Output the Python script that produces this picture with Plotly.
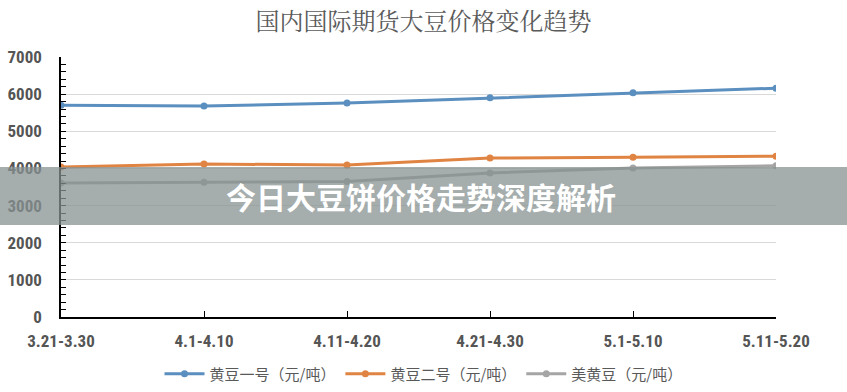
import plotly.graph_objects as go

categories = ["3.21-3.30", "4.1-4.10", "4.11-4.20", "4.21-4.30", "5.1-5.10", "5.11-5.20"]
soy1 = [5700, 5680, 5760, 5900, 6040, 6160]
soy2 = [4040, 4120, 4090, 4280, 4300, 4330]
us_soy = [3610, 3630, 3650, 3880, 4010, 4070]
series_names = ["黄豆一号（元/吨）", "黄豆二号（元/吨）", "美黄豆（元/吨）"]
colors = ["#5b8fbf", "#e08443", "#a5a5a5"]
title_text = "国内国际期货大豆价格变化趋势"
banner_text = "今日大豆饼价格走势深度解析"

fig = go.Figure()
for name, vals, c in zip(series_names, [soy1, soy2, us_soy], colors):
    fig.add_trace(go.Scatter(
        x=categories, y=vals, name=name, mode="lines+markers",
        line=dict(color=c, width=3), marker=dict(color=c, size=7),
    ))

tick_font = dict(family="Roboto Condensed, Liberation Sans Narrow, Roboto", size=17,
                 color="#555555", weight="bold")

L, R, T, B = 61, 71, 57, 75
W, H = 847, 392
pw, ph = W - L - R, H - T - B

fig.update_layout(
    width=W, height=H,
    margin=dict(l=L, r=R, t=T, b=B, autoexpand=False),
    paper_bgcolor="white", plot_bgcolor="white",
    title=dict(text=title_text, x=0.5, xanchor="center", xref="container",
               y=1 - 22 / H, yanchor="middle", yref="container",
               font=dict(family="Noto Serif CJK SC, Noto Sans CJK SC", size=24, color="#5a5a5a")),
    showlegend=True,
    legend=dict(orientation="h", x=0.5, xanchor="center", xref="container",
                y=1 - 374 / H, yanchor="middle", yref="container",
                font=dict(family="Noto Sans CJK SC", size=15, color="#595959"),
                itemwidth=40, tracegroupgap=0),
    xaxis=dict(
        type="category", range=[0, len(categories) - 1], automargin=False,
        showline=True, linecolor="black", linewidth=1.5,
        ticks="inside", ticklen=6, tickcolor="black", tickwidth=1,
        showgrid=False, tickfont=tick_font, ticklabelstandoff=8,
    ),
    yaxis=dict(
        range=[0, 7000], dtick=1000, automargin=False,
        showline=True, linecolor="black", linewidth=1.5,
        ticks="inside", ticklen=5, tickcolor="black",
        minor=dict(dtick=200, ticks="inside", ticklen=5, tickcolor="black", showgrid=False),
        showgrid=True, gridcolor="#d9d9d9", gridwidth=1,
        zeroline=False, tickfont=tick_font, ticklabelstandoff=14,
    ),
)

fig.add_shape(type="rect", xref="paper", yref="paper", x0=-L / pw, x1=1 + R / pw,
              y0=(H - B - 225) / ph, y1=(H - B - 167) / ph,
              fillcolor="rgba(135,145,145,0.75)", line=dict(width=0), layer="above")
fig.add_annotation(text="<b>" + banner_text + "</b>", xref="paper", yref="paper",
                   x=(421 - L) / pw, y=(H - B - 196) / ph, showarrow=False,
                   font=dict(family="Noto Sans CJK SC", size=30, color="white"))

fig.write_html("out.html", config={"displayModeBar": False},
               post_script="document.body.style.margin='0';document.body.style.overflow='hidden';")
